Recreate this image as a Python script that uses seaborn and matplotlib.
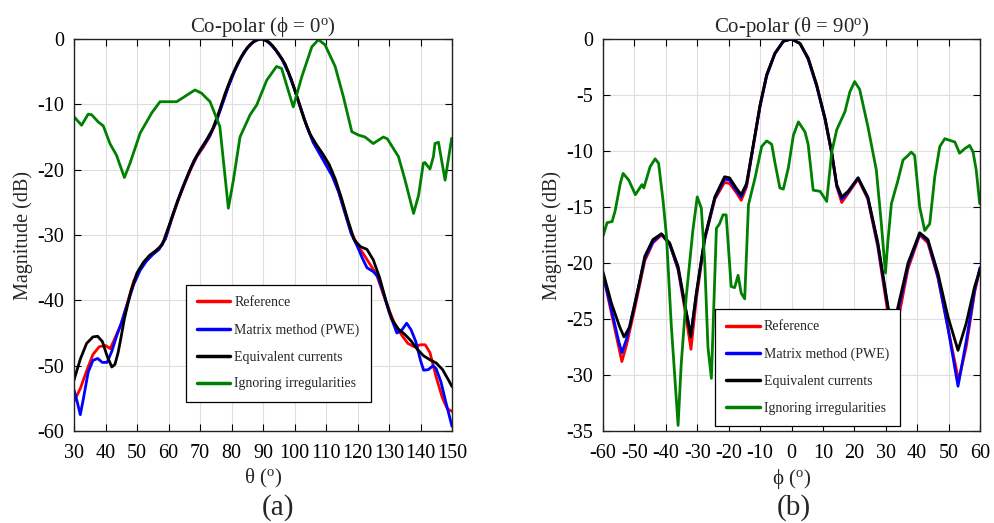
import numpy as np
import pandas as pd
import matplotlib
matplotlib.use("Agg")
import matplotlib.pyplot as plt
import seaborn as sns

# ---------------- data: panel (a) Co-polar phi = 0 ----------------
a_ref_x = [30, 32, 34, 36, 38, 40, 41.5, 43, 45, 47, 49, 51, 53, 55, 57, 59, 61, 63, 65, 67, 69, 71, 73, 75, 77, 79,
           81, 83, 85, 87, 89, 90, 92, 94, 96, 98, 100, 102, 104, 106, 108, 110, 112, 114, 116, 118, 120, 122, 124,
           126, 128, 130, 132, 134, 136, 138, 140, 141.5, 143, 145, 147, 148.5, 150]
a_ref_y = [-55.5, -53.5, -50.8, -48.3, -47.1, -46.9, -47.4, -45.8, -43.6, -40.3, -37.0, -35.1, -33.8, -32.8, -32.0,
           -30.6, -27.6, -24.8, -22.3, -20.0, -18.0, -16.6, -15.0, -12.9, -10.0, -7.2, -4.8, -2.8, -1.3, -0.4, 0.0,
           0.0, -0.5, -1.6, -3.0, -5.0, -7.6, -10.6, -13.5, -15.8, -17.4, -19.0, -20.8, -23.3, -26.5, -29.6, -31.5,
           -33.0, -34.5, -36.0, -38.8, -41.5, -43.8, -45.3, -46.6, -47.1, -46.8, -46.8, -48.0, -51.8, -55.0, -56.6,
           -57.0]

a_pwe_x = [30, 31, 32, 33, 34.5, 36, 37.5, 39, 40.5, 42, 43.5, 45, 47, 49, 51, 53, 55, 57, 59, 61, 63, 65, 67, 69,
           71, 73, 75, 77, 79, 81, 83, 85, 87, 89, 90, 92, 94, 96, 98, 100, 102, 104, 106, 108, 110, 112, 114, 116,
           118, 120, 121.5, 123, 125, 126.5, 128, 130, 132.5, 134, 135.6, 137, 138.5, 140, 141, 142.5, 144, 145,
           146.5, 148, 150]
a_pwe_y = [-53.7, -55.5, -57.5, -55.0, -51.0, -49.2, -48.9, -49.5, -49.5, -47.8, -45.5, -43.5, -40.5, -37.5, -35.4,
           -34.0, -33.0, -32.2, -30.6, -27.5, -24.6, -22.1, -19.8, -17.9, -16.4, -14.9, -12.8, -10.1, -7.3, -4.9,
           -2.9, -1.4, -0.4, 0.0, 0.0, -0.6, -1.7, -3.1, -5.1, -7.7, -10.6, -13.5, -15.9, -17.6, -19.3, -21.0, -23.4,
           -26.6, -29.8, -31.8, -33.5, -35.0, -35.6, -36.4, -38.5, -41.8, -45.0, -44.6, -43.5, -44.5, -46.3, -49.2,
           -50.7, -50.6, -50.0, -50.5, -52.5, -55.5, -59.3]

a_eq_x = [30, 32, 34, 36, 37.5, 39, 40.5, 42, 43, 44, 45, 46, 48, 50, 52, 54, 56, 58, 60, 62, 64, 66, 68, 70, 72, 74,
          76, 78, 80, 82, 84, 86, 88, 89.5, 91, 93, 95, 97, 99, 101, 103, 105, 107, 109, 111, 113, 115, 117, 119,
          121, 123, 125, 127, 129, 131, 133, 135, 137, 139, 141, 143, 145, 147, 149, 150]
a_eq_y = [-52.2, -49.0, -46.6, -45.6, -45.5, -46.3, -48.5, -50.2, -49.8, -48.0, -45.5, -42.8, -38.7, -35.8, -34.2,
          -33.1, -32.4, -31.5, -28.8, -26.0, -23.4, -21.0, -18.7, -17.0, -15.5, -13.8, -11.2, -8.3, -5.8, -3.7,
          -2.0, -0.8, -0.1, 0.0, -0.2, -1.0, -2.3, -3.8, -6.2, -9.2, -12.2, -14.6, -16.2, -17.6, -19.2, -21.5,
          -24.5, -27.8, -30.8, -31.8, -32.2, -33.8, -36.5, -40.0, -43.0, -44.4, -45.2, -46.2, -47.5, -48.5, -49.1,
          -49.6, -50.6, -52.3, -53.2]

a_ign_x = [30, 32.4, 34.5, 35.6, 37.7, 39.3, 41.4, 43.5, 46, 47.8, 51, 54.7, 57.3, 62.6, 68.4, 70.5, 73.2, 76.3, 79,
           80.6, 82.7, 85.9, 88, 91.2, 94.3, 95.9, 99.6, 102.3, 105.5, 107.6, 109.7, 112.9, 115.5, 118.2, 120.3,
           122.4, 125, 128.2, 129.5, 133, 135.1, 137.8, 139.4, 140.9, 141.4, 143, 144.1, 144.6, 145.7, 147.8, 149.9]
a_ign_y = [-11.9, -13.2, -11.5, -11.6, -12.7, -13.3, -16.0, -17.8, -21.2, -19.0, -14.4, -11.3, -9.6, -9.6, -7.8,
           -8.3, -9.6, -13.4, -25.9, -21.6, -15.0, -11.6, -10.1, -6.3, -4.2, -4.5, -10.4, -5.8, -1.2, -0.1, -0.9,
           -4.2, -8.8, -14.2, -14.7, -15.0, -16.0, -15.0, -15.3, -18.0, -21.6, -26.7, -23.9, -19.0, -18.9, -19.9,
           -18.0, -16.0, -15.8, -21.6, -15.2]

# ---------------- data: panel (b) Co-polar theta = 90 ----------------
b_eq_x = [-60, -57.3, -54.7, -53.3, -51.5, -48.9, -46.7, -44.1, -41.4, -38.8, -36.1, -33.8, -32.1, -30.3, -27.6,
          -24.4, -21.3, -19.7, -17.6, -16.0, -14.3, -12.2, -10.0, -7.9, -5.3, -2.6, 0, 2.7, 5.3, 8.0, 10.7, 12.8,
          14.4, 16.0, 18.0, 21.2, 24.3, 27.5, 30.2, 32.0, 33.9, 37.1, 40.8, 43.4, 46.6, 49.8, 53.0, 55.6, 58.3, 60]
b_eq_y = [-20.8, -23.6, -25.7, -26.6, -25.7, -22.4, -19.4, -17.9, -17.4, -18.2, -20.3, -23.9, -26.6, -22.7, -17.7,
          -14.1, -12.3, -12.4, -13.3, -13.9, -12.9, -9.5, -5.9, -3.2, -1.3, -0.2, 0.0, -0.4, -1.7, -4.1, -7.1,
          -10.1, -13.0, -14.1, -13.6, -12.4, -14.1, -18.2, -23.0, -26.3, -23.9, -20.0, -17.3, -17.9, -20.9, -24.8,
          -27.8, -25.4, -22.1, -20.6]

b_ref_x = [-60, -57.3, -55.0, -54.0, -52.5, -50.0, -46.7, -44.1, -41.4, -38.8, -36.1, -33.8, -32.0, -30.3, -27.6,
           -24.4, -21.3, -19.7, -17.6, -16.0, -14.3, -12.2, -10.0, -7.9, -5.3, -2.6, 0, 2.7, 5.3, 8.0, 10.7, 12.8,
           14.4, 16.0, 18.0, 21.2, 24.3, 27.5, 30.2, 32.2, 34.0, 37.1, 40.8, 43.4, 46.6, 49.8, 53.2, 55.6, 58.3, 60]
b_ref_y = [-21.0, -24.5, -27.5, -28.8, -27.3, -24.2, -19.8, -18.2, -17.5, -18.3, -20.6, -24.4, -27.7, -23.2, -17.9,
           -14.3, -12.8, -12.9, -13.7, -14.4, -13.2, -9.6, -5.9, -3.2, -1.3, -0.2, 0.0, -0.4, -1.7, -4.1, -7.2,
           -10.2, -13.2, -14.6, -13.8, -12.5, -14.3, -18.6, -23.6, -27.5, -25.0, -20.5, -17.5, -18.2, -21.3, -25.8,
           -30.5, -27.5, -22.6, -20.5]

b_pwe_x = [-60, -57.3, -55.0, -54.0, -52.5, -50.0, -46.7, -44.1, -41.4, -38.8, -36.1, -33.8, -32.0, -30.3, -27.6,
           -24.4, -21.3, -19.7, -17.6, -16.0, -14.3, -12.2, -10.0, -7.9, -5.3, -2.6, 0, 2.7, 5.3, 8.0, 10.7, 12.8,
           14.4, 16.0, 18.0, 21.2, 24.3, 27.5, 30.2, 32.2, 34.0, 37.1, 40.8, 43.4, 46.6, 49.8, 53.0, 55.6, 58.3, 60]
b_pwe_y = [-21.0, -24.2, -27.0, -28.0, -26.8, -23.8, -19.6, -18.1, -17.4, -18.3, -20.5, -24.0, -26.4, -22.8, -17.8,
           -14.2, -12.5, -12.6, -13.5, -14.1, -13.0, -9.6, -6.0, -3.3, -1.3, -0.2, 0.0, -0.4, -1.8, -4.2, -7.2,
           -10.2, -13.1, -14.3, -13.7, -12.4, -14.2, -18.4, -23.2, -26.0, -24.2, -20.2, -17.4, -18.0, -21.2, -25.8,
           -31.0, -27.0, -22.4, -20.4]

b_ign_x = [-60, -58.7, -57.1, -56.1, -54.5, -53.6, -51.8, -49.7, -47.6, -47.0, -45.0, -43.4, -42.3, -40.9, -39.8,
           -38.3, -36.1, -35.1, -33.5, -31.4, -30.0, -28.7, -27.6, -26.6, -25.5, -24.7, -23.9, -22.9, -21.8, -20.8,
           -19.2, -18.1, -17.0, -16.0, -14.9, -13.7, -11.6, -9.5, -7.9, -6.3, -5.3, -3.7, -2.6, -1.0, 0.6, 2.2,
           4.3, 5.3, 6.9, 9.1, 11.2, 12.8, 14.4, 17.0, 18.6, 20.1, 21.7, 24.3, 27.0, 28.6, 29.9,
           30.7, 31.8, 33.9, 35.5, 37.1, 38.1, 39.2, 40.8, 42.4, 44.0, 45.6, 47.2, 48.8, 52.0, 53.5, 55.1, 56.7,
           57.8, 58.8, 59.9]
b_ign_y = [-17.6, -16.4, -16.3, -15.3, -12.9, -12.0, -12.6, -13.9, -13.0, -13.3, -11.4, -10.7, -11.1, -14.4, -17.6,
           -25.4, -34.5, -29.0, -23.0, -17.1, -14.1, -15.1, -20.0, -27.5, -30.3, -23.6, -16.9, -16.5, -15.7, -15.7,
           -22.1, -22.2, -21.1, -22.7, -23.2, -14.8, -12.4, -9.6, -9.1, -9.4, -11.0, -13.3, -13.4, -11.5, -8.6,
           -7.4, -8.3, -9.4, -13.5, -13.6, -14.5, -10.1, -8.1, -6.5, -4.7, -3.8, -4.5, -7.8,
           -11.7, -16.5, -20.9, -18.0, -14.7, -12.6, -10.8, -10.4, -10.1, -10.4, -15.0, -17.1, -16.5, -12.3, -9.6,
           -8.9, -9.2, -10.2, -9.8, -9.5, -10.1, -11.7, -14.7]

series_names = ["Reference", "Matrix method (PWE)", "Equivalent currents", "Ignoring irregularities"]
series_colors = ["#ff0000", "#0000ff", "#000000", "#008000"]

a_xticks = list(range(30, 151, 10))
a_yticks = list(range(0, -61, -10))
b_xticks = list(range(-60, 61, 10))
b_yticks = list(range(0, -36, -5))


def long_frame(pairs):
    frames = []
    for name, (xs, ys) in zip(series_names, pairs):
        frames.append(pd.DataFrame({"angle": xs, "mag": ys, "series": name}))
    return pd.concat(frames, ignore_index=True)


df_a = long_frame([(a_ref_x, a_ref_y), (a_pwe_x, a_pwe_y), (a_eq_x, a_eq_y), (a_ign_x, a_ign_y)])
df_b = long_frame([(b_ref_x, b_ref_y), (b_pwe_x, b_pwe_y), (b_eq_x, b_eq_y), (b_ign_x, b_ign_y)])

# ---------------- styling ----------------
sns.set_style("ticks")
plt.rcParams["font.family"] = ["Liberation Serif", "DejaVu Serif"]
plt.rcParams["mathtext.fontset"] = "custom"
plt.rcParams["mathtext.rm"] = "Liberation Serif"
plt.rcParams["mathtext.it"] = "Liberation Serif:italic"
plt.rcParams["axes.unicode_minus"] = False

fig = plt.figure(figsize=(9.94, 5.23), dpi=100)
W, H = 994, 523
ax_a = fig.add_axes([74 / W, 1 - 431 / H, (452 - 74) / W, (431 - 39) / H])
ax_b = fig.add_axes([603 / W, 1 - 431 / H, (980 - 603) / W, (431 - 39) / H])

palette = dict(zip(series_names, series_colors))


def draw(ax, df, xlim, ylim, xticks, yticks, title, xlabel, leg_anchor):
    sns.lineplot(data=df, x="angle", y="mag", hue="series", hue_order=series_names,
                 palette=palette, linewidth=2.0, estimator=None, ax=ax)
    ax.set_xlim(*xlim)
    ax.set_ylim(*ylim)
    ax.set_xticks(xticks)
    ax.set_yticks(yticks)
    ax.grid(True, color="#dedede", linewidth=0.8)
    ax.set_axisbelow(True)
    ax.tick_params(direction="in", top=True, right=True, length=5, width=0.8,
                   labelsize=14.5, pad=7, colors="black")
    ax.tick_params(axis="x", pad=9)
    for s in ax.spines.values():
        s.set_color("#222222")
        s.set_linewidth(1.0)
    ax.set_title(title, fontsize=15, pad=5)
    ax.set_xlabel(xlabel, fontsize=15, labelpad=3)
    ax.set_ylabel("Magnitude (dB)", fontsize=14.5, labelpad=3)
    sns.move_legend(ax, loc="lower left", bbox_to_anchor=leg_anchor, title=None,
                    frameon=True, fancybox=False, fontsize=10, borderaxespad=0,
                    handlelength=2.4, labelspacing=1.0, borderpad=0.8, handletextpad=0.3,
                    edgecolor="black", framealpha=1)
    leg = ax.get_legend()
    leg.get_frame().set_linewidth(0.9)
    for ln in leg.get_lines():
        ln.set_linewidth(2.5)


draw(ax_a, df_a, (30, 150), (-60, 0), a_xticks, a_yticks,
     r"Co-polar (ϕ = 0$^{\rm o}$)", r"θ ($^{\rm o}$)", (0.296, 0.075))
draw(ax_b, df_b, (-60, 60), (-35, 0), b_xticks, b_yticks,
     r"Co-polar (θ = 90$^{\rm o}$)", r"ϕ ($^{\rm o}$)", (0.298, 0.0135))

fig.text(278 / W, 1 - 508 / H, "(a)", ha="center", va="center", fontsize=21)
fig.text(794 / W, 1 - 508 / H, "(b)", ha="center", va="center", fontsize=21)

fig.savefig("out.png", dpi=100, facecolor="white")
